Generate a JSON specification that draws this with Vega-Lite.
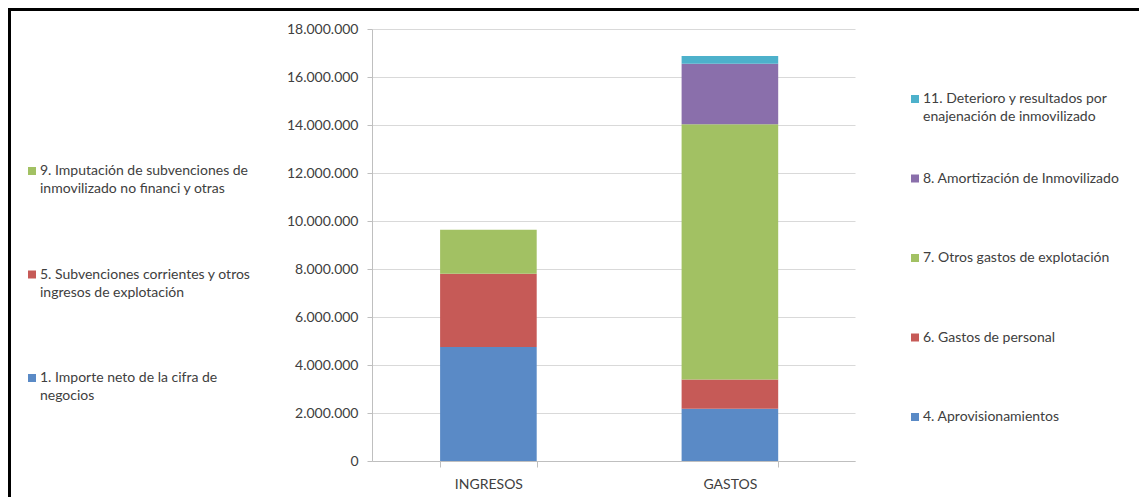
{
  "$schema": "https://vega.github.io/schema/vega-lite/v6.json",
  "autosize": {"type": "pad"},
  "padding": {"left": 8, "top": 8, "right": 0, "bottom": 0},
  "background": "white",
  "bounds": "flush",
  "spacing": 0,
  "config": {
    "font": "Lato",
    "view": {"stroke": null},
    "locale": {
      "number": {"decimal": ",", "thousands": ".", "grouping": [3], "currency": ["", " €"]}
    },
    "style": {"guide-label": {"lineHeight": 18}},
    "axis": {
      "labelFont": "Lato",
      "labelFontSize": 14,
      "labelColor": "#404040",
      "domainColor": "#BFBFBF",
      "tickColor": "#BFBFBF",
      "gridColor": "#D9D9D9",
      "title": null
    },
    "legend": {
      "orient": "none",
      "title": null,
      "padding": 0,
      "symbolType": "square",
      "symbolSize": 64,
      "symbolStrokeWidth": 0,
      "labelFont": "Lato",
      "labelFontSize": 14,
      "labelColor": "#404040",
      "labelLimit": 0,
      "labelOffset": 1,
      "gridAlign": "all"
    }
  },
  "datasets": {
    "cuenta": [
      {"lado": "INGRESOS", "concepto": "1. Importe neto de la cifra de negocios", "orden": 1, "valor": 4750000},
      {"lado": "INGRESOS", "concepto": "5. Subvenciones corrientes y otros ingresos de explotación", "orden": 2, "valor": 3050000},
      {"lado": "INGRESOS", "concepto": "9. Imputación de subvenciones de inmovilizado no financi y otras", "orden": 3, "valor": 1840000},
      {"lado": "GASTOS", "concepto": "4. Aprovisionamientos", "orden": 1, "valor": 2180000},
      {"lado": "GASTOS", "concepto": "6. Gastos de personal", "orden": 2, "valor": 1220000},
      {"lado": "GASTOS", "concepto": "7. Otros gastos de explotación", "orden": 3, "valor": 10630000},
      {"lado": "GASTOS", "concepto": "8. Amortización de Inmovilizado", "orden": 4, "valor": 2520000},
      {"lado": "GASTOS", "concepto": "11. Deterioro y resultados por enajenación de inmovilizado", "orden": 5, "valor": 320000}
    ],
    "vacio": []
  },
  "hconcat": [
    {
      "name": "marco_izquierdo",
      "width": 3,
      "height": 489,
      "data": {"name": "vacio"},
      "mark": "rect",
      "encoding": {},
      "view": {"fill": "black", "stroke": null}
    },
    {
      "spacing": 18,
      "bounds": "flush",
      "vconcat": [
        {
          "name": "marco_superior",
          "width": 1128,
          "height": 3,
          "data": {"name": "vacio"},
          "mark": "rect",
          "encoding": {},
          "view": {"fill": "black", "stroke": null}
        },
        {
          "spacing": 360,
          "bounds": "flush",
          "hconcat": [
            {
              "name": "separador",
              "width": 1,
              "height": 432,
              "data": {"name": "vacio"},
              "mark": "rect",
              "encoding": {}
            },
            {
              "name": "grafico",
              "width": 483,
              "height": 432,
              "data": {"name": "cuenta"},
              "encoding": {
                "x": {
                  "field": "lado",
                  "type": "nominal",
                  "sort": ["INGRESOS", "GASTOS"],
                  "scale": {"domain": ["INGRESOS", "GASTOS"], "paddingInner": 0.6, "paddingOuter": 0.3, "align": 0.47},
                  "axis": {"labelAngle": 0, "tickBand": "extent", "tickSize": 6, "labelPadding": 10, "labelBaseline": "top"}
                },
                "y": {
                  "field": "valor",
                  "type": "quantitative",
                  "stack": "zero",
                  "scale": {"domain": [0, 18000000], "nice": false},
                  "axis": {
                    "values": [0, 2000000, 4000000, 6000000, 8000000, 10000000, 12000000, 14000000, 16000000, 18000000],
                    "format": ",d",
                    "tickSize": 5,
                    "labelPadding": 9,
                    "grid": true
                  }
                },
                "order": {"field": "orden", "type": "quantitative", "sort": "ascending"}
              },
              "layer": [
                {
                  "transform": [{"filter": "datum.lado === 'INGRESOS'"}],
                  "mark": {"type": "bar"},
                  "encoding": {
                    "color": {
                      "field": "concepto",
                      "type": "nominal",
                      "scale": {
                        "domain": [
                          "9. Imputación de subvenciones de inmovilizado no financi y otras",
                          "5. Subvenciones corrientes y otros ingresos de explotación",
                          "1. Importe neto de la cifra de negocios"
                        ],
                        "range": ["#A2C163", "#C65A57", "#5A8AC6"]
                      },
                      "legend": {
                        "legendX": -347,
                        "legendY": 135,
                        "rowPadding": 71.5,
                        "labelBaseline": "middle",
                        "labelExpr": "datum.value === '9. Imputación de subvenciones de inmovilizado no financi y otras' ? ['9. Imputación de subvenciones de', 'inmovilizado no financi y otras'] : datum.value === '5. Subvenciones corrientes y otros ingresos de explotación' ? ['5. Subvenciones corrientes y otros', 'ingresos de explotación'] : ['1. Importe neto de la cifra de', 'negocios']"
                      }
                    }
                  }
                },
                {
                  "transform": [{"filter": "datum.lado === 'GASTOS'"}],
                  "mark": {"type": "bar"},
                  "encoding": {
                    "color": {
                      "field": "concepto",
                      "type": "nominal",
                      "scale": {
                        "domain": [
                          "11. Deterioro y resultados por enajenación de inmovilizado",
                          "8. Amortización de Inmovilizado",
                          "7. Otros gastos de explotación",
                          "6. Gastos de personal",
                          "4. Aprovisionamientos"
                        ],
                        "range": ["#4DB1CB", "#8A6FAB", "#A2C163", "#C65A57", "#5A8AC6"]
                      },
                      "legend": {
                        "legendX": 536,
                        "legendY": 63,
                        "rowPadding": 47.5,
                        "labelBaseline": "middle",
                        "labelExpr": "datum.value === '11. Deterioro y resultados por enajenación de inmovilizado' ? ['11. Deterioro y resultados por', 'enajenación de inmovilizado'] : datum.label"
                      }
                    }
                  }
                }
              ],
              "resolve": {"scale": {"color": "independent"}}
            }
          ]
        }
      ]
    }
  ]
}
